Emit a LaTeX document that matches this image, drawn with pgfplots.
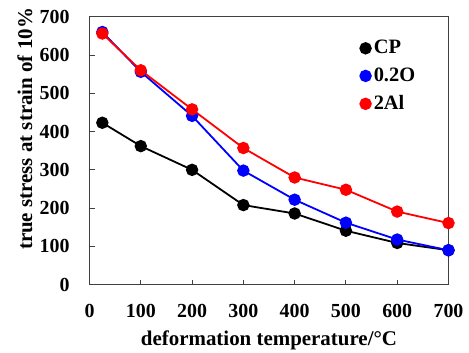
\documentclass[border=0pt]{standalone}
\usepackage{pgfplots}
\pgfplotsset{compat=1.18}
\usepackage{fontspec}
\setmainfont{Liberation Serif}
\begin{document}
\fontsize{20.5}{24}\selectfont\bfseries
\begin{tikzpicture}
\begin{axis}[
  scale only axis, width=359bp, height=268bp,
  xmin=0, xmax=700, ymin=0, ymax=700,
  xtick={0,100,...,700}, ytick={0,100,...,700},
  tick align=inside, xtick pos=lower, ytick pos=left,
  major tick length=5bp,
  axis line style={draw=black!75, line width=0.9bp},
  every tick/.style={black!75, line width=0.9bp},
  /pgf/number format/assume math mode=true,
  ticklabel style={font=\fontsize{20}{24}\selectfont\bfseries},
  xticklabel style={yshift=-13bp},
  yticklabel style={xshift=-13bp},
  xlabel={deformation temperature/°C},
  ylabel={true stress at strain of 10\%},
  label style={font=\fontsize{21}{24}\selectfont\bfseries},
  xlabel style={at={(axis description cs:0.5,0)}, anchor=center, yshift=-56bp},
  ylabel style={at={(axis description cs:-0.1797,0.581)}, anchor=center},
  legend style={draw=none, fill=none, at={(axis cs:520,650)}, anchor=north west,
    font=\fontsize{20.5}{24}\selectfont\bfseries, row sep=7bp},
  legend cell align=left,
  legend image code/.code={\fill[#1] (0.15cm,0cm) circle (5.3bp);},
  every axis plot/.append style={line width=1.8bp, mark=*, mark size=5.3bp},
]
\addplot[color=black, mark options={fill=black}] coordinates {
(25,423) (100,362) (200,300) (300,208) (400,186) (500,141) (600,109) (700,90)};
\addlegendentry{CP}
\addplot[color=blue, mark options={fill=blue}] coordinates {
(25,660) (100,556) (200,441) (300,298) (400,222) (500,162) (600,118) (700,90)};
\addlegendentry{0.2O}
\addplot[color=red, mark options={fill=red}] coordinates {
(25,656) (100,560) (200,458) (300,357) (400,280) (500,248) (600,191) (700,161)};
\addlegendentry{2Al}
\coordinate (bl) at (rel axis cs:0,0);
\coordinate (tr) at (rel axis cs:1,1);
\end{axis}
\pgfresetboundingbox
\path ([xshift=-89.5bp,yshift=-67.4bp]bl) rectangle ([xshift=20.5bp,yshift=16.7bp]tr);
\end{tikzpicture}
\end{document}
